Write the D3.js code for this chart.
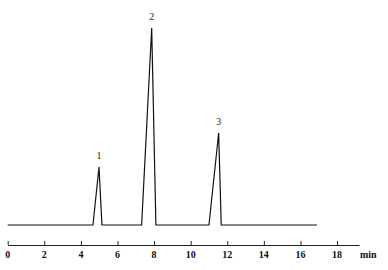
<!DOCTYPE html>
<html>
<head>
<meta charset="utf-8">
<script src="https://cdn.jsdelivr.net/npm/d3@7"></script>
<style>
  body { margin: 0; background: #fff; }
  svg { display: block; }
</style>
</head>
<body>
<div id="chart"></div>
<script>
// chromatogram trace (time in min, signal in arbitrary units)
const traceTime = [0, 4.66, 4.99, 5.15, 7.32, 7.87, 8.1, 11.0, 11.53, 11.67, 16.9];
const traceSignal = [0, 0, 29.4, 0, 0, 100, 0, 0, 46.7, 0, 0];

// peak labels
const peakNames = ["1", "2", "3"];
const peakTimes = [4.99, 7.87, 11.53];
const peakHeights = [29.4, 100, 46.7];

const tickValues = [0, 2, 4, 6, 8, 10, 12, 14, 16, 18];

const width = 388, height = 270;

const x = d3.scaleLinear().domain([0, 19.2]).range([7.7, 359]);
const y = d3.scaleLinear().domain([0, 100]).range([225, 28]);

const svg = d3.select("#chart")
  .append("svg")
  .attr("width", width)
  .attr("height", height);

const trace = traceTime.map((t, i) => ({ t: t, s: traceSignal[i] }));

const line = d3.line()
  .x(d => x(d.t))
  .y(d => y(d.s));

svg.append("path")
  .datum(trace)
  .attr("d", line)
  .attr("fill", "none")
  .attr("stroke", "#111")
  .attr("stroke-width", 1.2)
  .attr("stroke-linejoin", "miter");

// peak numbers
svg.selectAll(".peak-label")
  .data(peakNames)
  .join("text")
  .attr("class", "peak-label")
  .attr("x", (d, i) => x(peakTimes[i]))
  .attr("y", (d, i) => y(peakHeights[i]) - 8)
  .attr("text-anchor", "middle")
  .style("font-family", "'Liberation Serif', serif")
  .style("font-size", "10px")
  .attr("fill", "#222")
  .text(d => d);

// time axis, ticks pointing up
const axisY = 245;
const xAxis = d3.axisTop(x)
  .tickValues(tickValues)
  .tickSize(4)
  .tickSizeOuter(0)
  .tickFormat("");

const axisG = svg.append("g")
  .attr("transform", `translate(0,${axisY})`)
  .call(xAxis);

axisG.select(".domain").attr("stroke", "#222").attr("stroke-width", 1);
axisG.selectAll(".tick line").attr("stroke", "#222");

svg.selectAll(".tick-label")
  .data(tickValues)
  .join("text")
  .attr("class", "tick-label")
  .attr("x", d => x(d))
  .attr("y", 258)
  .attr("text-anchor", "middle")
  .style("font-family", "'Liberation Serif', serif")
  .style("font-size", "10px")
  .style("font-weight", "bold")
  .attr("fill", "#111")
  .text(d => d);

svg.append("text")
  .attr("x", 360)
  .attr("y", 258)
  .style("font-family", "'Liberation Serif', serif")
  .style("font-size", "10px")
  .style("font-weight", "bold")
  .attr("fill", "#111")
  .text("min");
</script>
</body>
</html>
